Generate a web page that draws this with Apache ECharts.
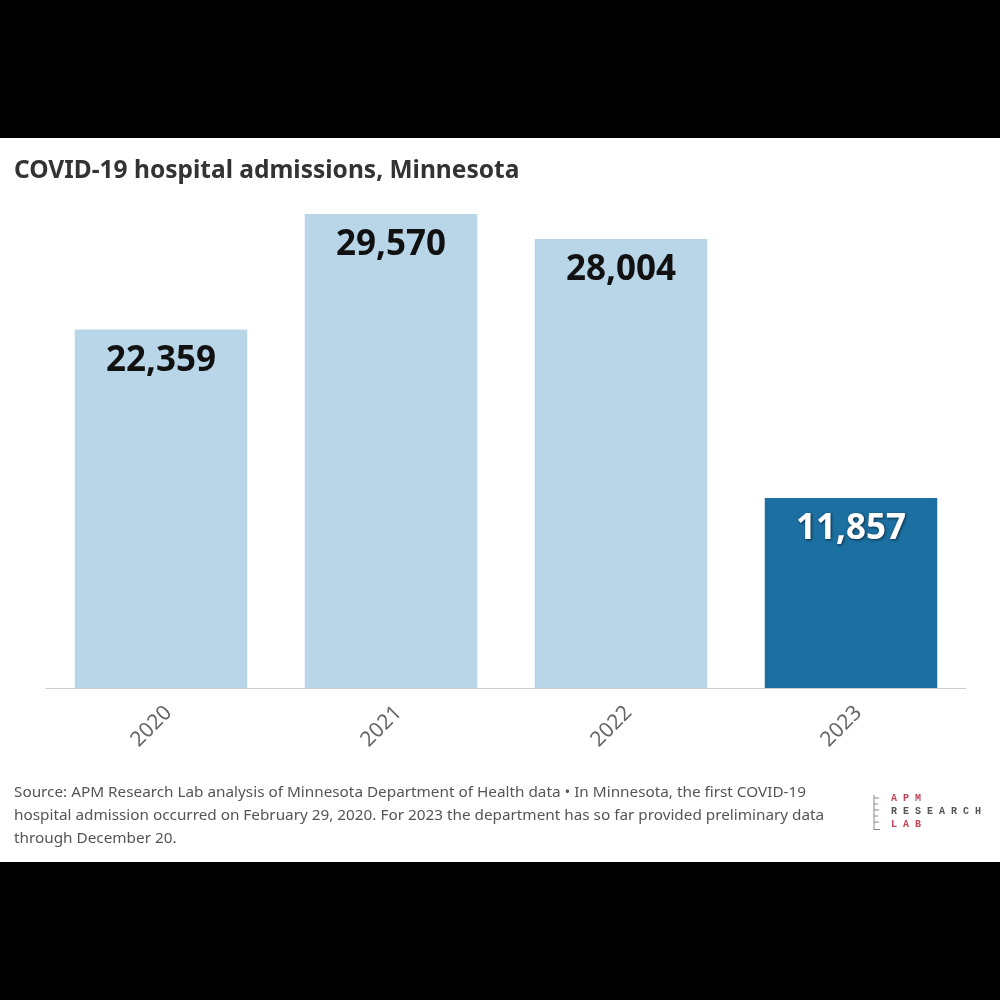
<!DOCTYPE html>
<html><head><meta charset="utf-8">
<script src="https://cdn.jsdelivr.net/npm/echarts@6/dist/echarts.min.js"></script>
<style>html,body{margin:0;padding:0;background:#000;}#c{width:1000px;height:1000px;}</style>
</head><body><div id="c"></div>
<script>
const years = ['2020', '2021', '2022', '2023'];
const admissions = [22359, 29570, 28004, 11857];
const barColors = ['#b9d6e9', '#b9d6e9', '#b9d6e9', '#1c6fa1'];
const labelColors = ['#111', '#111', '#111', '#fff'];
const titleText = 'COVID-19 hospital admissions, Minnesota';
const footnote = ['Source: APM Research Lab analysis of Minnesota Department of Health data \u2022 In Minnesota, the first COVID-19',
  'hospital admission occurred on February 29, 2020. For 2023 the department has so far provided preliminary data',
  'through December 20.'];

const chart = echarts.init(document.getElementById('c'));
const font = '"Source Sans Pro", "Noto Sans", "Open Sans", sans-serif';
const mono = '"Liberation Mono", "DejaVu Sans Mono", monospace';
chart.setOption({
  backgroundColor: '#000',
  animation: false,
  grid: { left: 46, right: 34, top: 207, bottom: 312 },
  xAxis: {
    type: 'category', data: years,
    axisLine: { lineStyle: { color: '#cccccc', width: 1 } },
    axisTick: { alignWithLabel: true, length: 8, lineStyle: { color: '#cccccc' } },
    axisLabel: { rotate: 45, color: '#666', fontSize: 21, fontFamily: font, margin: 14, verticalAlign: 'top' }
  },
  yAxis: { type: 'value', min: 0, max: 30000, show: false },
  series: [{
    type: 'bar',
    barCategoryGap: '25%',
    data: admissions.map((v, i) => ({
      value: v,
      itemStyle: { color: barColors[i] },
      label: {
        color: labelColors[i],
        textShadowColor: i === 3 ? 'rgba(0,0,0,0.6)' : 'transparent',
        textShadowBlur: i === 3 ? 3 : 0,
        textShadowOffsetX: 1, textShadowOffsetY: 1
      }
    })),
    label: {
      show: true, position: 'insideTop', distance: 14,
      fontSize: 35, fontWeight: 'bold', fontFamily: font,
      formatter: p => p.value.toLocaleString('en-US')
    }
  }],
  graphic: [
    { type: 'rect', z: -10, shape: { x: 0, y: 138, width: 1000, height: 724 }, style: { fill: '#fff' } },
    { type: 'text', left: 14, top: 159, style: { text: titleText, font: 'bold 24.5px ' + font, fill: '#333' } },
    { type: 'text', left: 14, top: 781, style: { text: footnote.join('\n'), font: '15.3px ' + font, fill: '#555', lineHeight: 23 } },
    { type: 'text', left: 891, top: 793, style: { text: 'A P M', font: 'bold 10px ' + mono, fill: '#c0455a' } },
    { type: 'text', left: 891, top: 806, style: { text: 'R E S E A R C H', font: 'bold 10px ' + mono, fill: '#555' } },
    { type: 'text', left: 891, top: 819, style: { text: 'L A B', font: 'bold 10px ' + mono, fill: '#c0455a' } },
    { type: 'line', shape: { x1: 874, y1: 795, x2: 874, y2: 830 }, style: { stroke: '#888', lineWidth: 1 } },
    { type: 'line', shape: { x1: 874, y1: 829.5, x2: 880, y2: 829.5 }, style: { stroke: '#888', lineWidth: 1 } },
    { type: 'line', shape: { x1: 874, y1: 798, x2: 879, y2: 798 }, style: { stroke: '#888', lineWidth: 1 } },
    { type: 'line', shape: { x1: 874, y1: 804, x2: 878, y2: 804 }, style: { stroke: '#888', lineWidth: 1 } },
    { type: 'line', shape: { x1: 874, y1: 810, x2: 879, y2: 810 }, style: { stroke: '#888', lineWidth: 1 } },
    { type: 'line', shape: { x1: 874, y1: 816, x2: 878, y2: 816 }, style: { stroke: '#888', lineWidth: 1 } },
    { type: 'line', shape: { x1: 874, y1: 822, x2: 879, y2: 822 }, style: { stroke: '#888', lineWidth: 1 } }
  ]
});
</script></body></html>
